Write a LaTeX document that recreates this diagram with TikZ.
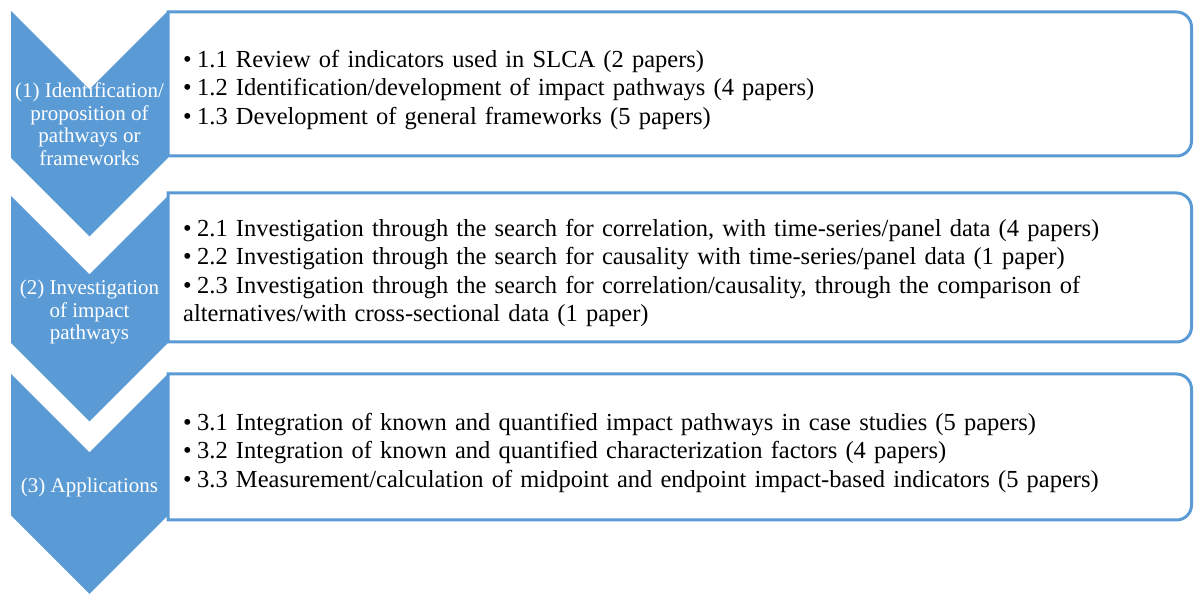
\documentclass[tikz,border=0pt]{standalone}
\usepackage{fontspec}
\setmainfont{Liberation Serif}
\definecolor{accent}{RGB}{91,155,213}
\newcommand\itm[1]{\par\hangindent=14pt\hangafter=1\noindent\makebox[14pt][l]{\textbullet}#1}
\begin{document}
\begin{tikzpicture}[x=1pt,y=1pt,
  chev/.style={fill=accent,draw=none},
  panel/.style={draw=accent,line width=3pt,fill=white},
  chevtext/.style={text=white,align=center,font=\fontsize{21}{22.5}\selectfont,inner sep=0pt},
  paneltext/.style={anchor=west,text width=1000pt,align=left,font=\fontsize{24.5}{28.5}\selectfont,inner sep=0pt}]
\useasboundingbox (0,0) rectangle (1194,594);
% panels
\draw[panel] (168,582) -- (1176.5,582) arc[start angle=90,end angle=0,radius=15] -- (1191.5,453) arc[start angle=0,end angle=-90,radius=15] -- (168,438) -- cycle;
\draw[panel] (168,401) -- (1176.5,401) arc[start angle=90,end angle=0,radius=15] -- (1191.5,267) arc[start angle=0,end angle=-90,radius=15] -- (168,252) -- cycle;
\draw[panel] (168,220) -- (1176.5,220) arc[start angle=90,end angle=0,radius=15] -- (1191.5,89) arc[start angle=0,end angle=-90,radius=15] -- (168,74) -- cycle;
% chevrons
\fill[chev] (11,583) -- (89.5,504.5) -- (168,583) -- (168,436) -- (89.5,357.5) -- (11,436) -- cycle;
\fill[chev] (11,398) -- (89.5,319.5) -- (168,398) -- (168,251) -- (89.5,172.5) -- (11,251) -- cycle;
\fill[chev] (11,220) -- (89.5,141.5) -- (168,220) -- (168,78.5) -- (89.5,0) -- (11,78.5) -- cycle;
% chevron labels
\node[chevtext] (c1) at (89.5,470) {(1) Identification/\\proposition of\\pathways or\\frameworks};
\node[chevtext] (c2) at (89.5,282) {(2) Investigation\\of impact\\pathways};
\node[chevtext] (c3) at (89.5,107) {(3) Applications};
% panel texts
\node[paneltext] (t1) at (183,510) {%
\itm{1.1 Review of indicators used in SLCA (2 papers)}
\itm{1.2 Identification/development of impact pathways (4 papers)}
\itm{1.3 Development of general frameworks (5 papers)}};
\node[paneltext] (t2) at (183,326.5) {%
\itm{2.1 Investigation through the search for correlation, with time-series/panel data (4 papers)}
\itm{2.2 Investigation through the search for causality with time-series/panel data (1 paper)}
\itm{2.3 Investigation through the search for correlation/causality, through the comparison of\\alternatives/with cross-sectional data (1 paper)}};
\node[paneltext] (t3) at (183,147) {%
\itm{3.1 Integration of known and quantified impact pathways in case studies (5 papers)}
\itm{3.2 Integration of known and quantified characterization factors (4 papers)}
\itm{3.3 Measurement/calculation of midpoint and endpoint impact-based indicators (5 papers)}};
\end{tikzpicture}
\end{document}
